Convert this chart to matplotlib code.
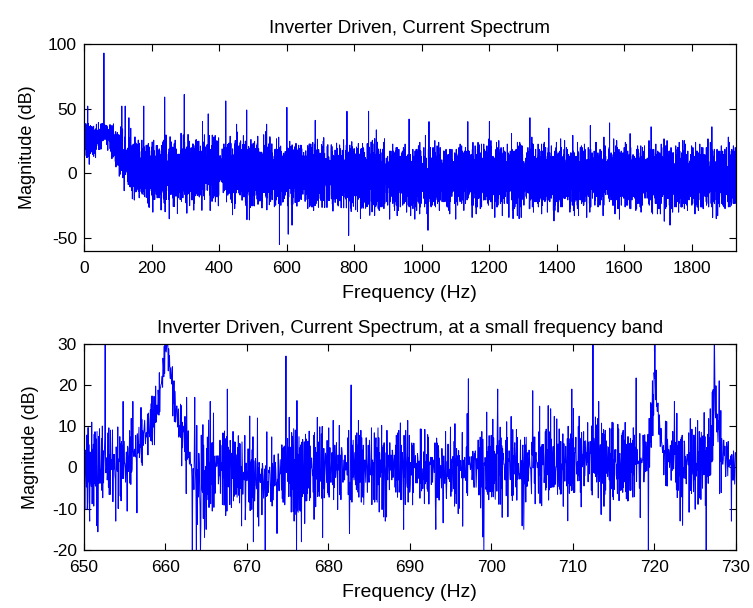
import matplotlib.pyplot as plt
import numpy as np

plt.rcParams["font.family"] = ["Liberation Sans", "DejaVu Sans"]
plt.rcParams["axes.unicode_minus"] = False

# ---------------- full spectrum, 0 - 1930 Hz ----------------
full_step = 0.25
full_fmax = 1930.0
# centre and half width (dB) of the dense noise band
full_env_f = [0, 20, 50, 60, 75, 95, 120, 150, 200, 300, 380, 450, 550, 700, 900, 1200, 1500, 1800, 1930]
full_env_mid = [25, 25, 28, 33, 28, 20, 10, 3, 0, 0, 4, 1, 0, -2, -3, -3, -3, -3, -3]
full_env_half = [15, 15, 12, 6, 12, 16, 20, 24, 27, 27, 27, 27, 27, 27, 27, 27, 27, 27, 27]
# single lines sticking out of the band
full_peak_f = [0, 0.5, 11, 59, 112, 122, 133, 177, 239, 297, 351, 368, 420, 452, 482, 541, 601, 685,
               779, 843, 963, 1022, 1137, 1201, 1321, 1377, 1500, 1557, 1680, 1860,
               204, 440, 490, 579, 605, 784, 819, 1019, 1271, 1289, 1719, 1736, 1873]
full_peak_db = [0, 59, 52, 93, 52, 52, 43, 52, 59, 61, 40, 46, 56, 38, 49, 38, 51, 41,
                48, 48, 42, 40, 40, 40, 43, 35, 37, 39, 36, 36,
                -30, -32, -36, -55, -47, -48, -35, -44, -35, -35, -37, -40, -35]

# ---------------- small band, 650 - 730 Hz ----------------
band_step = 0.05
band_env_f = [650, 655, 656.5, 657.5, 658.5, 659.3, 659.8, 660.1, 660.5, 661,
              661.5, 662.5, 663.2, 664, 665, 667, 670, 672, 674, 675,
              676, 677, 680, 690, 695, 700, 710, 712.5, 715, 719,
              719.7, 720.1, 720.6, 721.2, 725, 726.8, 727.5, 728.2, 730]
band_env_mid = [0, 1, 4, 8, 11, 17, 25, 32, 25, 17,
                11, 6, 0, -4, -1, 0, -2, -4, -2, 1,
                -3, -1, 0, 0, -1, 0, 1, 3, 0, 2,
                10, 22, 10, 3, 0, 3, 16, 3, 0]
band_env_half = [12, 12, 10, 8, 8, 7, 6, 5, 6, 7,
                 8, 10, 15, 16, 14, 12, 12, 14, 12, 12,
                 15, 12, 12, 12, 12, 13, 12, 12, 12, 12,
                 8, 8, 8, 12, 12, 12, 10, 12, 12]
band_peak_f = [652.6, 654.8, 656.0, 662.6, 663.6, 665.5, 667.6, 674.8, 682.8, 697.2, 700.8,
               705.1, 707.0, 709.9, 712.5, 713.2, 717.8, 720.1, 722.5, 727.4, 728.0,
               650.7, 651.7, 653.9, 656.5, 663.3, 663.8, 664.3, 664.8, 670.8, 673.7, 676.1,
               676.7, 679.3, 682.6, 687.0, 693.2, 699.1, 704.0, 714.6, 719.3, 723.5, 726.4, 729.5]
band_peak_db = [34, 16, 16, 17, 17, 16, 19, 27, 20, 21.5, 19,
                18.6, 15, 19, 34, 16, 21.7, 34, 16, 34, 21,
                -13, -15.6, -13, -11, -21, -22, -21, -17, -18, -16, -21,
                -18, -17, -16, -13, -15, -21, -15, -13, -22, -14, -22, -13]

# fixed jitter pattern (tenths of the band half width) used for the grass between lines
tex_a = np.array([3, -7, 9, -2, 5, -10, 1, 8, -4, 6, -8, 2, -1, 10, -6, 4, -3, 7, -9, 0,
                  5, -5, 12, -2, 3, -8, 6, -4, 9, -1, -7, 2, 8, -10, 4, -6, 1, -3, 7, -9,
                  -15, 6, -2, 5, -7, 3, 9, -4, 0, -8, 11, -5, 2, -1, 6, -9, 4, -3, 8, -6,
                  1, 7, -10, 3, -2, 9, -7, 5, -4, 14, -8, 2, -6, 0, 6, -3, 8, -9, 4, -1,
                  -5, 7, -2, 10, -7, 3, -4, 6, -13, 1, 5, -8, 9, -3, 2, -6, 4])
tex_b = np.array([-4, 8, -1, 6, -9, 2, -6, 10, -3, 5, -7, 1, 9, -5, 3, -10, 7, -2, 4, -8,
                  12, -3, 6, -6, 0, 8, -9, 2, -4, 7, -1, -11, 5, -7, 3, 9, -2, -5, 6, -8,
                  1, 10, -4, 4, -9, 2, -3, 8, -6, 0, 7, -10, 5, -1, 3, -7, 9, -4, 6, -2,
                  -8, 4, -14, 11, -5, 2, -6, 7, -3, 1, 9, -9, 3, -1, 5, -7, 8, -4, 2, -6,
                  6, -2, 13, -8, 4, -5, 1, -3, 7])


def build(f_lo, f_hi, step, env_f, env_mid, env_half, pk_f, pk_db, shift):
    f = np.arange(f_lo, f_hi + step / 2, step)
    mid = np.interp(f, env_f, env_mid)
    half = np.interp(f, env_f, env_half)
    i = np.arange(f.size) + shift
    t = (tex_a[i % tex_a.size] + tex_b[i % tex_b.size]) / 20.0
    y = mid + half * t
    idx = np.round((np.asarray(pk_f) - f_lo) / step).astype(int)
    y[idx] = pk_db
    return f, y


f1, y1 = build(0, full_fmax, full_step, full_env_f, full_env_mid, full_env_half,
               full_peak_f, full_peak_db, 0)
f2, y2 = build(650, 730, band_step, band_env_f, band_env_mid, band_env_half,
               band_peak_f, band_peak_db, 31)

fig = plt.figure(figsize=(7.53, 6.08), dpi=100)
W, H = 753.0, 608.0
ax1 = fig.add_axes([84 / W, 1 - 251 / H, 651.5 / W, 207 / H])
ax2 = fig.add_axes([84 / W, 1 - 550 / H, 651.5 / W, 206.3 / H])

ax1.plot(f1, y1, color="#0000ff", lw=0.7)
ax1.set_xlim(0, full_fmax)
ax1.set_ylim(-60, 100)
ax1.set_xticks(np.arange(0, 1801, 200))
ax1.set_yticks([-50, 0, 50, 100])
ax1.set_title("Inverter Driven, Current Spectrum", fontsize=13.5, pad=8)

ax2.plot(f2, y2, color="#0000ff", lw=0.7)
ax2.set_xlim(650, 730)
ax2.set_ylim(-20, 30)
ax2.set_xticks(np.arange(650, 731, 10))
ax2.set_yticks(np.arange(-20, 31, 10))
ax2.set_title("Inverter Driven, Current Spectrum, at a small frequency band",
              fontsize=13.5, pad=8)

for ax in (ax1, ax2):
    ax.set_xlabel("Frequency (Hz)", fontsize=14, labelpad=7)
    ax.set_ylabel("Magnitude (dB)", fontsize=13, labelpad=9)
    ax.tick_params(direction="in", top=True, right=True, length=5, width=0.8,
                   labelsize=12.5)
    ax.tick_params(axis="x", pad=7)
    ax.tick_params(axis="y", pad=5)
    for s in ax.spines.values():
        s.set_linewidth(0.9)

fig.savefig("out.png", dpi=100)
